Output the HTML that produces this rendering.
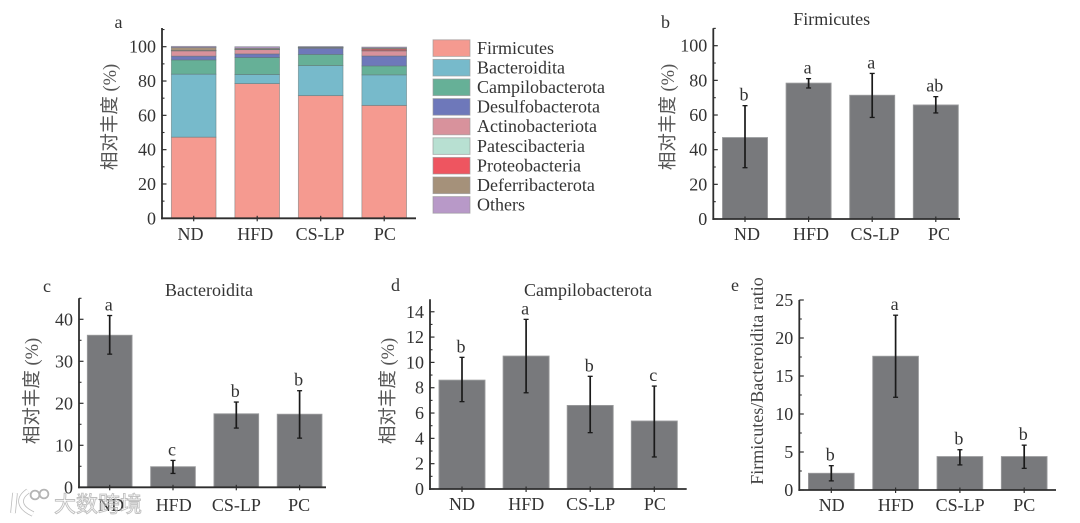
<!DOCTYPE html>
<html lang="zh">
<head>
<meta charset="utf-8">
<title>Relative abundance of gut microbiota at phylum level</title>
<style>
html,body{margin:0;padding:0;background:#fff;width:1080px;height:523px;overflow:hidden}
svg{display:block;filter:blur(.3px)}
text{font-family:"Liberation Serif","Noto Serif CJK SC",serif;fill:#333}
</style>
</head>
<body>
<svg id="figure" width="1080" height="523" viewBox="0 0 1080 523" xmlns="http://www.w3.org/2000/svg">
  <g id="panels"></g>
  <g>
    <path d="M15 493 L13 513 M28 491 C18 498 18 507 33 514" fill="none" stroke="#bcbcbc" stroke-width="5.6"/>
    <path d="M15 493 L13 513 M28 491 C18 498 18 507 33 514" fill="none" stroke="#fff" stroke-width="4"/>
    <circle cx="35" cy="495" r="4.4" fill="#fff" stroke="#b4b4b4" stroke-width="1.8"/>
    <circle cx="44" cy="494" r="4.4" fill="#fff" stroke="#b4b4b4" stroke-width="1.8"/>
    <text x="54" y="512" font-size="22" style="font-family:'Liberation Sans','Noto Sans CJK SC',sans-serif;fill:#fff;fill-opacity:.35;stroke:#aaa;stroke-opacity:.75;stroke-width:.9">大数跨境</text>
  </g>
</svg>
<script>
const categories = ['ND', 'HFD', 'CS-LP', 'PC'];

/* Panel a: stacked composition */
const phylumNames = ['Firmicutes', 'Bacteroidita', 'Campilobacterota', 'Desulfobacterota', 'Actinobacteriota', 'Patescibacteria', 'Proteobacteria', 'Deferribacterota', 'Others'];
const stackFirmicutes = [47.3, 78.5, 71.5, 65.8];
const stackBacteroidita = [36.7, 5.3, 17.5, 17.8];
const stackCampilobacterota = [8.3, 9.9, 6.5, 5.2];
const stackDesulfobacterota = [2.2, 2.1, 3.6, 5.8];
const stackActinobacteriota = [3.1, 2.5, 0.3, 3.0];
const stackPatescibacteria = [0.1, 0.1, 0.1, 0.1];
const stackProteobacteria = [0.1, 0.1, 0.1, 0.9];
const stackDeferribacterota = [1.7, 0.6, 0.1, 0.6];
const stackOthers = [0.7, 0.9, 0.4, 0.6];
const phylumColors = ['#f59a90', '#77bacb', '#66b097', '#6e78ba', '#d8929c', '#b8e0d2', '#ee5560', '#a5917a', '#b899c8'];
const ticksA = [0, 20, 40, 60, 80, 100];

/* Panel b: Firmicutes */
const firmMean = [47.0, 78.4, 71.4, 65.8];
const firmHigh = [65.4, 81.0, 84.0, 70.6];
const firmLow = [29.6, 75.6, 58.6, 61.2];
const firmLetters = ['b', 'a', 'a', 'ab'];
const ticksB = [0, 20, 40, 60, 80, 100];

/* Panel c: Bacteroidita */
const bactMean = [36.2, 4.9, 17.5, 17.4];
const bactHigh = [40.9, 6.4, 20.3, 23.0];
const bactLow = [31.7, 3.3, 14.1, 11.7];
const bactLetters = ['a', 'c', 'b', 'b'];
const ticksC = [0, 10, 20, 30, 40];

/* Panel d: Campilobacterota */
const campMean = [8.6, 10.5, 6.6, 5.37];
const campHigh = [10.4, 13.4, 8.9, 8.13];
const campLow = [6.9, 7.6, 4.45, 2.53];
const campLetters = ['b', 'a', 'b', 'c'];
const ticksD = [0, 2, 4, 6, 8, 10, 12, 14];

/* Panel e: Firmicutes / Bacteroidita ratio */
const ratioMean = [2.2, 17.6, 4.4, 4.4];
const ratioHigh = [3.2, 23.0, 5.3, 5.9];
const ratioLow = [1.2, 12.2, 3.3, 2.85];
const ratioLetters = ['b', 'a', 'b', 'b'];
const ticksE = [0, 5, 10, 15, 20, 25];

const stackSeries = [stackFirmicutes, stackBacteroidita, stackCampilobacterota, stackDesulfobacterota, stackActinobacteriota, stackPatescibacteria, stackProteobacteria, stackDeferribacterota, stackOthers];

const NS = 'http://www.w3.org/2000/svg';
const root = document.getElementById('panels');

function make(tag, parent, name, interactable, attrs, content) {
  const el = document.createElementNS(NS, tag);
  
  
  for (const k in attrs) el.setAttribute(k, attrs[k]);
  if (content !== undefined) el.textContent = content;
  parent.appendChild(el);
  return el;
}

function slug(s) { return s.toLowerCase().replace(/[^a-z0-9]+/g, '-'); }

function buildAxes(g, p, ticks, minorStep) {
  const y = v => p.base - v * p.unit;
  const axisColor = '#2e2e2e';
  make('line', g, 'y-axis', 'false', { x1: p.axisX, x2: p.axisX, y1: p.top, y2: p.base + .9, stroke: axisColor, 'stroke-width': 1.8 });
  make('line', g, 'x-axis', 'false', { x1: p.axisX - .9, x2: p.axisEnd, y1: p.base, y2: p.base, stroke: axisColor, 'stroke-width': 1.8 });
  const maxV = (p.base - p.top) / p.unit;
  for (let v = minorStep; v <= maxV + .01; v += 2 * minorStep) {
    make('line', g, 'y-minor-tick', 'false', { x1: p.axisX, x2: p.axisX + 2.5, y1: y(v), y2: y(v), stroke: axisColor, 'stroke-width': 1.1 });
  }
  ticks.forEach(v => {
    make('line', g, 'y-tick-' + v, 'false', { x1: p.axisX, x2: p.axisX + 4.5, y1: y(v), y2: y(v), stroke: axisColor, 'stroke-width': 1.2 });
    make('text', g, 'y-tick-label-' + v, 'false', { x: p.axisX - 6, y: y(v) + 6, 'text-anchor': 'end', 'font-size': 18 }, String(v));
  });
  categories.forEach((c, i) => {
    make('text', g, 'x-tick-label-' + slug(c), 'false', { x: p.labelFirst + i * p.labelStep, y: p.labelY, 'text-anchor': 'middle', 'font-size': 18 }, c);
  });
}

function xTicksOnTop(g, p) {
  categories.forEach((c, i) => {
    const cx = p.first + i * p.step;
    make('line', g, 'x-tick-' + slug(c), 'false', { x1: cx, x2: cx, y1: p.base - 2.5, y2: p.base + 3, stroke: '#2e2e2e', 'stroke-width': 1.2 });
  });
}

function yLabel(g, text, x, cy, size, cjk) {
  make('text', g, 'y-axis-title', 'false', { x: 0, y: 0, transform: 'translate(' + x + ',' + cy + ') rotate(-90)', 'text-anchor': 'middle', 'dominant-baseline': 'central', 'font-size': size || 18, style: cjk ? 'fill:#555;font-family:"Liberation Serif","Noto Sans CJK SC",sans-serif' : 'fill:#444' }, text);
}

function heading(g, p) {
  make('text', g, 'panel-letter', 'false', { x: p.letterX, y: p.letterY, 'font-size': 18 }, p.letter);
  if (p.title) make('text', g, 'panel-title', 'false', { x: p.titleX, y: p.titleY, 'text-anchor': 'middle', 'font-size': 18 }, p.title);
}

function barPanel(p, mean, high, low, letters, ticks, minorStep) {
  const g = make('g', root, p.name, 'false', {});
  const y = v => p.base - v * p.unit;
  heading(g, p);
  categories.forEach((c, i) => {
    const cx = p.first + i * p.step;
    make('rect', g, 'bar-' + slug(c), 'true', { x: cx - p.width / 2, y: y(mean[i]), width: p.width, height: p.base - y(mean[i]), fill: '#78797c', stroke: '#999a9c', 'stroke-width': .9 });
  });
  buildAxes(g, p, ticks, minorStep);
  xTicksOnTop(g, p);
  categories.forEach((c, i) => {
    const cx = p.first + i * p.step;
    make('line', g, 'error-bar-' + slug(c), 'false', { x1: cx, x2: cx, y1: y(high[i]), y2: y(low[i]), stroke: '#1a1a1a', 'stroke-width': 1.7 });
    make('line', g, 'error-cap-high-' + slug(c), 'false', { x1: cx - 2.5, x2: cx + 2.5, y1: y(high[i]), y2: y(high[i]), stroke: '#1a1a1a', 'stroke-width': 1.3 });
    make('line', g, 'error-cap-low-' + slug(c), 'false', { x1: cx - 2.5, x2: cx + 2.5, y1: y(low[i]), y2: y(low[i]), stroke: '#1a1a1a', 'stroke-width': 1.3 });
    make('text', g, 'significance-letter-' + slug(c), 'false', { x: cx - 1, y: y(high[i]) - 5, 'text-anchor': 'middle', 'font-size': 18 }, letters[i]);
  });
  yLabel(g, p.yTitle, p.yTitleX, p.yTitleY, p.yTitleSize, p.cjk);
}

function stackPanel(p) {
  const g = make('g', root, p.name, 'false', {});
  const y = v => p.base - v * p.unit;
  heading(g, p);
  categories.forEach((c, i) => {
    const cx = p.first + i * p.step;
    let acc = 0;
    stackSeries.forEach((series, s) => {
      const val = series[i];
      make('rect', g, 'segment-' + slug(phylumNames[s]) + '-' + slug(c), 'true', { x: cx - p.width / 2, y: y(acc + val), width: p.width, height: val * p.unit, fill: phylumColors[s], stroke: '#5f6f70', 'stroke-opacity': .55, 'stroke-width': .8 });
      acc += val;
    });
  });
  buildAxes(g, p, ticksA, 10);
  xTicksOnTop(g, p);
  yLabel(g, p.yTitle, p.yTitleX, p.yTitleY, 18.5, true);
  const legend = make('g', g, 'legend', 'false', {});
  phylumNames.forEach((n, s) => {
    const ly = 39.8 + s * 19.6;
    make('rect', legend, 'legend-swatch-' + slug(n), 'true', { x: 433, y: ly, width: 37, height: 16.6, fill: phylumColors[s], stroke: '#999', 'stroke-opacity': .7, 'stroke-width': .9 });
    make('text', legend, 'legend-label-' + slug(n), 'true', { x: 477, y: ly + 14, 'font-size': 18 }, n);
  });
}

const cnTitle = '相对丰度 (%)';

stackPanel({ name: 'panel-a-composition', letter: 'a', letterX: 114.5, letterY: 28, axisX: 162, axisEnd: 416, top: 28, base: 218.3, unit: 1.716, first: 193.7, step: 63.5, width: 44.7, labelFirst: 190.5, labelStep: 64.8, labelY: 240, yTitle: cnTitle, yTitleX: 111, yTitleY: 117 });

barPanel({ name: 'panel-b-firmicutes', letter: 'b', letterX: 661, letterY: 28, title: 'Firmicutes', titleX: 831.7, titleY: 25, axisX: 713.3, axisEnd: 960, top: 28.3, base: 219, unit: 1.733, first: 745, step: 63.6, width: 45, labelFirst: 747, labelStep: 64, labelY: 240, yTitle: cnTitle, yTitleX: 669, yTitleY: 117, yTitleSize: 18.5, cjk: true }, firmMean, firmHigh, firmLow, firmLetters, ticksB, 10);

barPanel({ name: 'panel-c-bacteroidita', letter: 'c', letterX: 43, letterY: 292, title: 'Bacteroidita', titleX: 209, titleY: 296, axisX: 79, axisEnd: 326, top: 298.3, base: 487.3, unit: 4.2, first: 109.7, step: 63.3, width: 44.7, labelFirst: 111, labelStep: 62.7, labelY: 511, yTitle: cnTitle, yTitleX: 33, yTitleY: 391, yTitleSize: 18.5, cjk: true }, bactMean, bactHigh, bactLow, bactLetters, ticksC, 5);

barPanel({ name: 'panel-d-campilobacterota', letter: 'd', letterX: 391, letterY: 291, title: 'Campilobacterota', titleX: 588, titleY: 296, axisX: 430, axisEnd: 686.7, top: 299.3, base: 489, unit: 12.66, first: 462, step: 64.1, width: 46, labelFirst: 462, labelStep: 64.3, labelY: 510, yTitle: cnTitle, yTitleX: 389, yTitleY: 391, yTitleSize: 18.5, cjk: true }, campMean, campHigh, campLow, campLetters, ticksD, 1);

barPanel({ name: 'panel-e-ratio', letter: 'e', letterX: 731, letterY: 291, axisX: 799.3, axisEnd: 1056, top: 300, base: 490, unit: 7.6, first: 831.3, step: 64.3, width: 45.7, labelFirst: 831.7, labelStep: 64.2, labelY: 511, yTitle: 'Firmicutes/Bacteroidita ratio', yTitleX: 757, yTitleY: 381 }, ratioMean, ratioHigh, ratioLow, ratioLetters, ticksE, 2.5);
</script>
</body>
</html>
